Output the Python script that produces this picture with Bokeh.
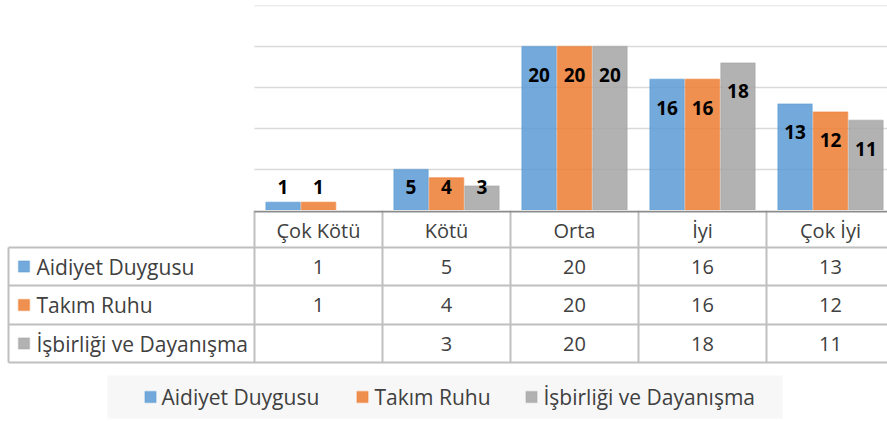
import math
from bokeh.plotting import figure
from bokeh.models import Range1d, ColumnDataSource
from bokeh.transform import dodge
from bokeh.layouts import column
from bokeh.core.properties import value
from bokeh.embed import file_html
from bokeh.resources import INLINE

# ---------------- data ----------------
categories = ["Çok Kötü", "Kötü", "Orta", "İyi", "Çok İyi"]
series_names = ["Aidiyet Duygusu", "Takım Ruhu", "İşbirliği ve Dayanışma"]
aidiyet = [1, 5, 20, 16, 13]
takim_ruhu = [1, 4, 20, 16, 12]
isbirligi = [None, 3, 20, 18, 11]
series_values = [aidiyet, takim_ruhu, isbirligi]
y_ticks = [5, 10, 15, 20, 25]

# ---------------- style ----------------
colors = ["#5B9BD5", "#ED7D31", "#A5A5A5"]
FONT = value("Open Sans")
TXT = "#404040"
W = 887
PX_PER_CAT = 128.0
PLOT_LEFT = 254
X_END = -0.5 + (W - PLOT_LEFT) / PX_PER_CAT
X0 = -0.5 - PLOT_LEFT / PX_PER_CAT


def px(xp):
    return X0 + xp / PX_PER_CAT


idx = list(range(len(categories)))


def make_fig(height, y_range, top=0):
    f = figure(width=W, height=height, x_range=Range1d(X0, X_END), y_range=y_range,
               min_border_left=0, min_border_right=0, min_border_top=top, min_border_bottom=0,
               toolbar_location=None, output_backend="svg", outline_line_color=None)
    f.axis.visible = False
    f.grid.visible = False
    return f


# ---------------- chart ----------------
p1 = make_fig(210, Range1d(0, 25), top=5)
# horizontal gridlines over the plot area only
p1.segment(x0=[-0.5] * len(y_ticks), y0=y_ticks, x1=[X_END] * len(y_ticks), y1=y_ticks,
           line_color="#D9D9D9", line_width=1.5)

bar_w = 0.268
step = 0.277
for k, (vals, col) in enumerate(zip(series_values, colors)):
    tops = [float("nan") if v is None else v for v in vals]
    labels = ["" if v is None else str(v) for v in vals]
    ly = [float("nan") if v is None else max(v - 3.45, 2.9) for v in vals]
    src = ColumnDataSource(dict(x=idx, top=tops, label=labels, ly=ly))
    xx = dodge("x", (k - 1) * step, range=p1.x_range)
    p1.vbar(x=xx, top="top", width=bar_w, source=src, fill_color=col, fill_alpha=0.85,
            line_color=col, line_alpha=0.45, line_width=1.5)
    p1.text(x=xx, y="ly", text="label", source=src, text_align="center", text_baseline="middle",
            text_font=FONT, text_font_style="bold", text_font_size="19px", text_color="black")

# ---------------- table + legend ----------------
p2 = make_fig(211, Range1d(211, 0))

header_h = 37
row_bounds = [37, 75, 114, 152]
row_centers = [(row_bounds[i] + row_bounds[i + 1]) / 2 for i in range(3)]
grid_col = "#BFBFBF"
left_x = px(8)

# vertical lines between category cells
vx = [i - 0.5 for i in range(len(categories) + 1)]
p2.segment(x0=vx, y0=[0] * len(vx), x1=vx, y1=[row_bounds[-1]] * len(vx),
           line_color=grid_col, line_width=2)
# left border of the label column
p2.segment(x0=[left_x], y0=[row_bounds[0]], x1=[left_x], y1=[row_bounds[-1]],
           line_color=grid_col, line_width=2)
# horizontal lines
p2.segment(x0=[left_x] * len(row_bounds), y0=row_bounds, x1=[X_END] * len(row_bounds), y1=row_bounds,
           line_color=grid_col, line_width=2)
# category axis line
p2.segment(x0=[-0.5], y0=[1], x1=[X_END], y1=[1], line_color="#8C8C8C", line_width=2)

# header
p2.text(x=idx, y=[header_h / 2 + 1] * len(idx), text=categories, text_align="center",
        text_baseline="middle", text_font=FONT, text_font_size="20px", text_color=TXT)

# rows
for k, (name, vals, col) in enumerate(zip(series_names, series_values, colors)):
    yc = row_centers[k]
    p2.rect(x=[px(23.5)], y=[yc], width=11, height=11, width_units="screen", height_units="screen",
            fill_color=col, fill_alpha=0.85, line_color=col, line_alpha=0.4, line_width=1.5)
    p2.text(x=[px(36)], y=[yc], text=[name], text_align="left", text_baseline="middle",
            text_font=FONT, text_font_size="21px", text_color=TXT)
    p2.text(x=idx, y=[yc] * len(idx), text=["" if v is None else str(v) for v in vals],
            text_align="center", text_baseline="middle", text_font=FONT, text_font_size="20px",
            text_color=TXT)

# legend
p2.quad(left=[px(107)], right=[px(782)], top=[165], bottom=[208], fill_color="#F7F7F7",
        line_color=None)
leg_sq = [150, 362, 531]
leg_tx = [161, 374, 543]
leg_y = 186.5
for name, col, sx, tx in zip(series_names, colors, leg_sq, leg_tx):
    p2.rect(x=[px(sx)], y=[leg_y], width=11, height=11, width_units="screen", height_units="screen",
            fill_color=col, fill_alpha=0.85, line_color=col, line_alpha=0.4, line_width=1.5)
    p2.text(x=[px(tx)], y=[leg_y], text=[name], text_align="left", text_baseline="middle",
            text_font=FONT, text_font_size="21px", text_color=TXT)

layout = column(p1, p2, spacing=0)
open("out.html", "w").write(file_html(layout, INLINE))
